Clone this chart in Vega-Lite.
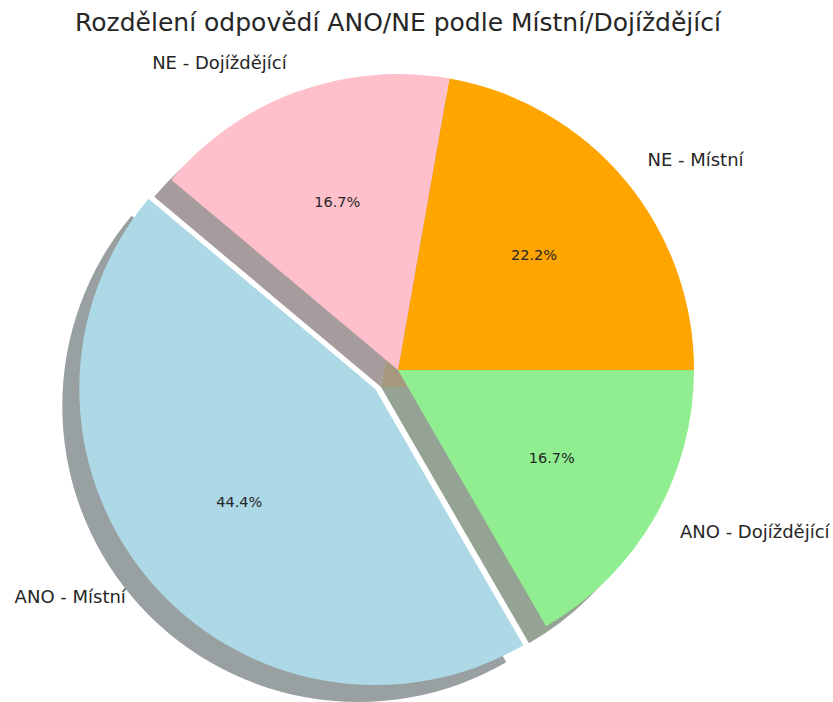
{
  "$schema": "https://vega.github.io/schema/vega-lite/v6.json",
  "autosize": "none",
  "padding": {"left": 0, "top": 38, "right": 37, "bottom": 0},
  "width": 796,
  "height": 664,
  "background": "white",
  "config": {"view": {"stroke": null}},
  "title": {"text": "Rozdělení odpovědí ANO/NE podle Místní/Dojíždějící", "font": "DejaVu Sans", "fontSize": 25, "fontWeight": "normal", "color": "#262626", "anchor": "middle", "offset": 2},
  "data": {"values": [
    {"label": "ANO - Místní", "count": 8, "ord": 3, "pct": "44.4%"},
    {"label": "ANO - Dojíždějící", "count": 3, "ord": 2, "pct": "16.7%"},
    {"label": "NE - Místní", "count": 4, "ord": 1, "pct": "22.2%"},
    {"label": "NE - Dojíždějící", "count": 3, "ord": 4, "pct": "16.7%"}
  ]},
  "encoding": {
    "theta": {"field": "count", "type": "quantitative", "stack": true, "scale": {"domain": [0, 18], "range": [0.174533, 6.457718]}},
    "order": {"field": "ord", "type": "quantitative"}
  },
  "layer": [
    {
      "mark": {"type": "arc", "outerRadius": 296, "xOffset": -39.7, "yOffset": 36, "fillOpacity": 0.5},
      "encoding": {
        "fill": {"field": "label", "type": "nominal", "legend": null, "scale": {"domain": ["ANO - Místní", "ANO - Dojíždějící", "NE - Místní", "NE - Dojíždějící"], "range": ["#344145", "#2B472B", "#4D3200", "#4D3A3D"]}},
        "opacity": {"condition": {"test": "datum.label === 'ANO - Místní'", "value": 1}, "value": 0}
      }
    },
    {
      "mark": {"type": "arc", "outerRadius": 296, "xOffset": -17, "yOffset": 17, "fillOpacity": 0.5},
      "encoding": {
        "fill": {"field": "label", "type": "nominal", "legend": null},
        "opacity": {"condition": {"test": "datum.label === 'ANO - Místní'", "value": 0}, "value": 1}
      }
    },
    {
      "mark": {"type": "arc", "outerRadius": 296},
      "encoding": {
        "color": {"field": "label", "type": "nominal", "legend": null, "scale": {"domain": ["ANO - Místní", "ANO - Dojíždějící", "NE - Místní", "NE - Dojíždějící"], "range": ["#ADD8E6", "#90EE90", "#FFA500", "#FFC0CB"]}},
        "opacity": {"condition": {"test": "datum.label === 'ANO - Místní'", "value": 0}, "value": 1}
      }
    },
    {
      "mark": {"type": "arc", "outerRadius": 296, "xOffset": -22.7, "yOffset": 19},
      "encoding": {
        "color": {"field": "label", "type": "nominal", "legend": null},
        "opacity": {"condition": {"test": "datum.label === 'ANO - Místní'", "value": 1}, "value": 0}
      }
    },
    {
      "mark": {"type": "text", "radius": 325.6, "align": "left", "baseline": "middle", "font": "DejaVu Sans", "fontSize": 18, "color": "#262626"},
      "encoding": {
        "text": {"condition": {"test": "datum.label === 'NE - Místní' || datum.label === 'ANO - Dojíždějící'", "field": "label"}, "value": ""}
      }
    },
    {
      "mark": {"type": "text", "radius": 325.6, "align": "right", "baseline": "middle", "font": "DejaVu Sans", "fontSize": 18, "color": "#262626"},
      "encoding": {
        "text": {"condition": {"test": "datum.label === 'NE - Dojíždějící'", "field": "label"}, "value": ""}
      }
    },
    {
      "mark": {"type": "text", "radius": 325.6, "align": "right", "baseline": "middle", "font": "DejaVu Sans", "fontSize": 18, "color": "#262626", "xOffset": -22.7, "yOffset": 19},
      "encoding": {
        "text": {"condition": {"test": "datum.label === 'ANO - Místní'", "field": "label"}, "value": ""}
      }
    },
    {
      "mark": {"type": "text", "radius": 177.6, "align": "center", "baseline": "middle", "font": "DejaVu Sans", "fontSize": 14.5, "color": "#262626"},
      "encoding": {
        "text": {"condition": {"test": "datum.label !== 'ANO - Místní'", "field": "pct"}, "value": ""}
      }
    },
    {
      "mark": {"type": "text", "radius": 177.6, "align": "center", "baseline": "middle", "font": "DejaVu Sans", "fontSize": 14.5, "color": "#262626", "xOffset": -22.7, "yOffset": 19},
      "encoding": {
        "text": {"condition": {"test": "datum.label === 'ANO - Místní'", "field": "pct"}, "value": ""}
      }
    }
  ]
}
